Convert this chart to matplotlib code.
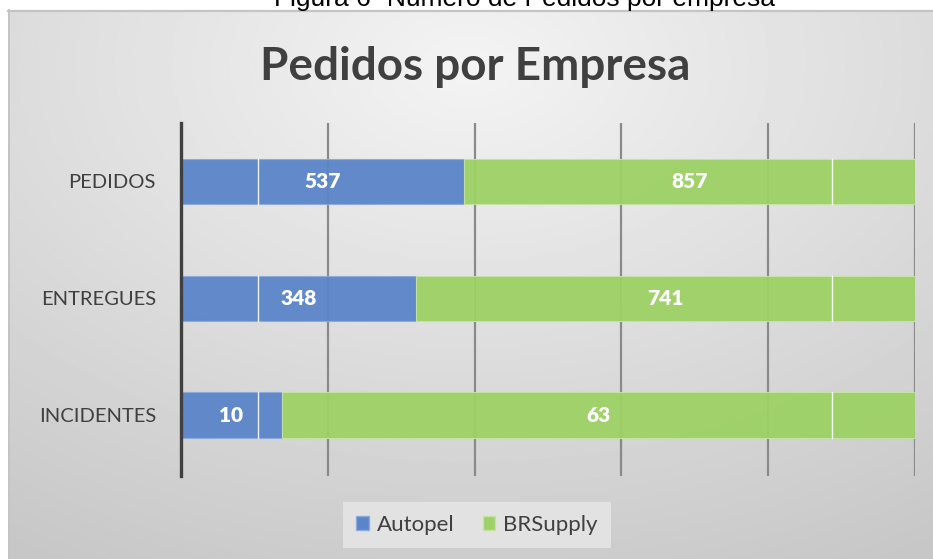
import numpy as np
import matplotlib.pyplot as plt
from matplotlib.patches import Patch

categories = ['INCIDENTES', 'ENTREGUES', 'PEDIDOS']
autopel = [10, 348, 537]
brsupply = [63, 741, 857]
series_names = ['Autopel', 'BRSupply']

BLUE = '#5b85c9'
GREEN = '#9dd165'
TXT = '#404040'
FONT = 'Lato'

fig = plt.figure(figsize=(9.33, 5.59), dpi=100)
W, H = 933, 559

# chart area background (soft radial gradient)
bg = fig.add_axes([8 / W, 0, 1 - 8 / W, (H - 10) / H], zorder=0)
yy, xx = np.mgrid[0:1:300j, 0:1:500j]
r = np.sqrt(((xx - 0.5) * 1.1) ** 2 + (yy - 0.1) ** 2)
shade = np.clip(0.955 - 0.17 * r, 0.78, 0.96)
bg.imshow(shade, cmap='gray', vmin=0, vmax=1, aspect='auto', extent=[0, 1, 1, 0])
bg.set_axis_off()
fig.add_artist(plt.Line2D([8 / W, 1], [1 - 10.5 / H] * 2, color='#c4c4c4', lw=1.6))
fig.add_artist(plt.Line2D([8.5 / W] * 2, [0, 1 - 10 / H], color='#c4c4c4', lw=1.4))

# caption of the source document, cut at the top edge as in the original
fig.text(525 / W, 1 - 6 / H, 'Figura 6- Número de Pedidos por empresa', ha='center',
         va='baseline', fontsize=19, family='Liberation Sans', color='#000000')
fig.text(475 / W, 1 - 80 / H, 'Pedidos por Empresa', ha='center', va='baseline',
         fontsize=33, fontweight='bold', family=FONT, color=TXT)

ax = fig.add_axes([181 / W, (H - 476) / H, (915 - 181) / W, (476 - 123) / H], zorder=1)
ax.patch.set_alpha(0)

tot = np.array(autopel) + np.array(brsupply)
pa = np.array(autopel) / tot
pb = np.array(brsupply) / tot
y = np.arange(len(categories))
bh = 0.39

ax.barh(y, pa, height=bh, color=BLUE, edgecolor='#8eaadb', lw=0.8, alpha=0.95, zorder=2)
ax.barh(y, pb, left=pa, height=bh, color=GREEN, edgecolor='#c5e3a4', lw=0.8, alpha=0.95, zorder=2)

# thin white seams seen inside the bars
for yi in y:
    for sx in (0.105, 0.887):
        ax.plot([sx, sx], [yi - bh / 2, yi + bh / 2], color='white', lw=1.0, alpha=0.9, zorder=3)

for yi, a, b, va, vb in zip(y, pa, pb, autopel, brsupply):
    ax.text(a / 2, yi, str(va), ha='center', va='center', color='white',
            fontsize=15, fontweight='heavy', family=FONT, zorder=4)
    ax.text(a + b / 2, yi, str(vb), ha='center', va='center', color='white',
            fontsize=15, fontweight='heavy', family=FONT, zorder=4)

ax.set_xlim(0, 1.0)
ax.set_ylim(-0.52, 2.5)
ax.set_xticks(np.linspace(0, 1, 6))
ax.xaxis.grid(True, color='#8a8a8a', lw=1.6, zorder=1)
ax.set_axisbelow(True)
ax.tick_params(axis='x', length=0, labelbottom=False)
ax.tick_params(axis='y', length=0, pad=18)
ax.set_yticks(y)
ax.set_yticklabels(categories, fontsize=14.5, family=FONT, color=TXT)
for s in ['top', 'right', 'bottom']:
    ax.spines[s].set_visible(False)
ax.spines['left'].set_color(TXT)
ax.spines['left'].set_linewidth(2.4)
ax.spines['left'].set_zorder(5)

handles = [Patch(facecolor=BLUE, edgecolor='#8eaadb'), Patch(facecolor=GREEN, edgecolor='#c5e3a4')]
leg = fig.legend(handles, series_names, loc='center', bbox_to_anchor=(477 / W, 1 - 525 / H),
                 ncol=2, frameon=True, fancybox=False, handlelength=0.55, handleheight=0.55,
                 handletextpad=0.35, columnspacing=1.3, borderpad=0.6, borderaxespad=0,
                 prop={'family': FONT, 'size': 16})
leg.get_frame().set_facecolor('#e2e2e2')
leg.get_frame().set_edgecolor('none')
leg.get_frame().set_alpha(1)
for t in leg.get_texts():
    t.set_color(TXT)

fig.savefig('out.png', dpi=100)
